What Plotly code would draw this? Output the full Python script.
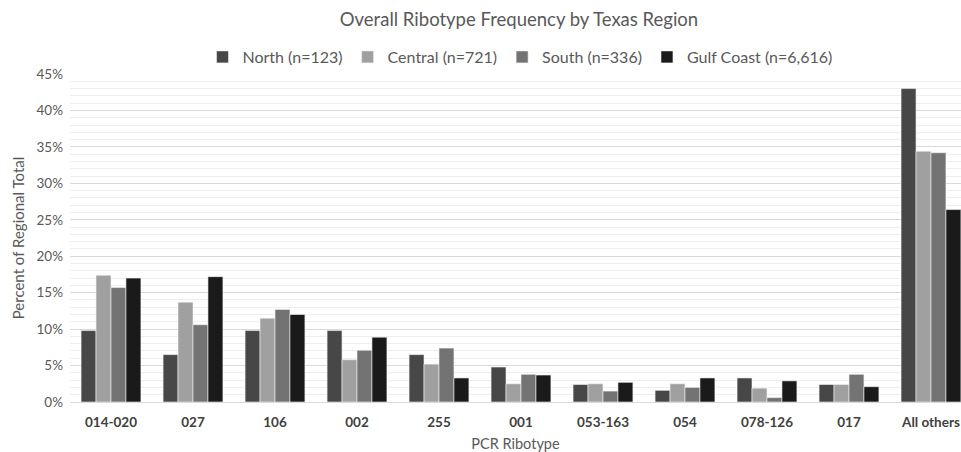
import plotly.graph_objects as go

categories = ["014-020", "027", "106", "002", "255", "001", "053-163", "054", "078-126", "017", "All others"]
north = [9.8, 6.5, 9.8, 9.8, 6.5, 4.8, 2.4, 1.6, 3.3, 2.4, 43.0]
central = [17.4, 13.7, 11.5, 5.8, 5.2, 2.5, 2.5, 2.5, 1.9, 2.4, 34.4]
south = [15.7, 10.6, 12.7, 7.1, 7.4, 3.8, 1.5, 2.0, 0.6, 3.8, 34.2]
gulf = [17.0, 17.2, 12.0, 8.9, 3.3, 3.7, 2.7, 3.3, 2.9, 2.1, 26.4]

series_names = ["North (n=123)", "Central (n=721)", "South (n=336)", "Gulf Coast (n=6,616)"]
series_values = [north, central, south, gulf]
series_colors = ["#474747", "#a0a0a0", "#737373", "#1a1a1a"]

FONT = "Lato"
W, H = 961, 452

fig = go.Figure()
for name, vals, col in zip(series_names, series_values, series_colors):
    fig.add_trace(go.Bar(
        x=categories, y=vals, name=name,
        marker=dict(color=col, line=dict(color="#f2f2f2", width=0.6)),
    ))

fig.update_layout(
    width=W, height=H,
    barmode="group", bargap=0.27, bargroupgap=0,
    plot_bgcolor="white", paper_bgcolor="white",
    margin=dict(l=70, r=0, t=74, b=50, autoexpand=False),
    font=dict(family=FONT, color="#595959"),
    title=dict(text="Overall Ribotype Frequency by Texas Region",
               xref="container", x=519 / W, xanchor="center",
               yref="container", y=1 - 20 / H, yanchor="middle",
               font=dict(size=18.5, color="#595959", family=FONT)),
    legend=dict(orientation="h", xref="container", x=520 / W, xanchor="center",
                yref="container", y=1 - 57 / H, yanchor="middle",
                font=dict(size=16, color="#595959", family=FONT), traceorder="normal",
                itemwidth=30, tracegroupgap=0),
    showlegend=True,
)

fig.update_xaxes(
    range=[-0.5, 10.366],
    showline=True, linecolor="#d9d9d9", linewidth=1,
    tickfont=dict(size=13.5, color="#404040", family=FONT, weight="bold"),
    ticks="", ticklabelstandoff=8,
    automargin=False,
    title=dict(text="PCR Ribotype", font=dict(size=14.5, color="#595959", family=FONT), standoff=9),
)
fig.update_yaxes(
    range=[0, 45], dtick=5, ticksuffix="%",
    showgrid=True, gridcolor="#d9d9d9", gridwidth=1,
    minor=dict(dtick=1, showgrid=True, gridcolor="#eeeeee", gridwidth=1),
    zeroline=False, automargin=False,
    tickfont=dict(size=13.5, color="#595959", family=FONT),
    ticklabelstandoff=6,
    title=dict(text="Percent of Regional Total", font=dict(size=15, color="#595959", family=FONT), standoff=8),
)

# remove the browser's default page margin so the figure fills the window exactly
fig.write_html("out.html", config={"displayModeBar": False},
               post_script="document.body.style.margin='0';document.body.style.overflow='hidden';")
